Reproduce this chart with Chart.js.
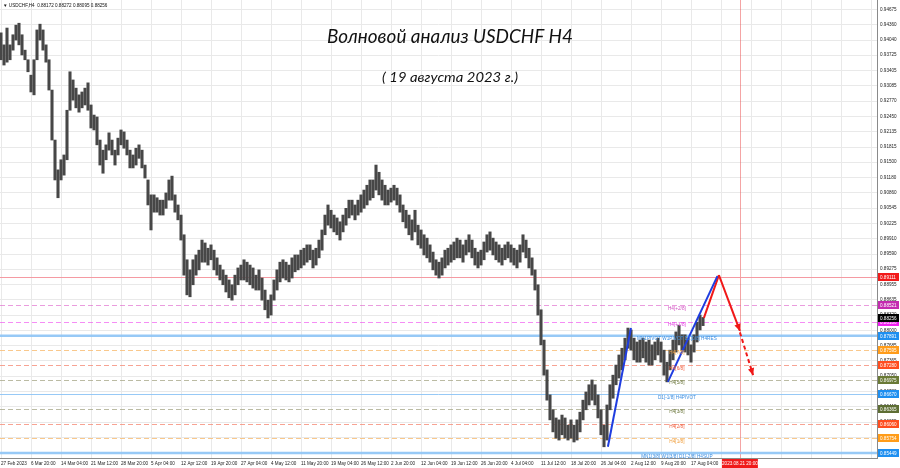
<!DOCTYPE html>
<html><head><meta charset="utf-8">
<script src="https://cdn.jsdelivr.net/npm/chart.js@4"></script>
<style>html,body{margin:0;padding:0;background:#fff}canvas{display:block}</style>
</head><body>
<canvas id="c" width="900" height="468"></canvas>
<script>
// ---- data (H4 bars sampled, price high / low) ----
const barHigh = [
0.9419,0.9394,0.9429,0.9394,0.9415,0.9435,0.9439,0.9415,0.9383,0.9363,
0.9331,0.9363,0.9425,0.9437,0.9425,0.9394,0.9363,0.9300,0.9196,0.9134,
0.9155,0.9165,0.9258,0.9338,0.9321,0.9304,0.9290,0.9296,0.9304,0.9315,
0.9269,0.9248,0.9244,0.9196,0.9175,0.9186,0.9211,0.9196,0.9175,0.9200,
0.9217,0.9213,0.9196,0.9175,0.9165,0.9179,0.9186,0.9175,0.9144,0.9113,
0.9082,0.9082,0.9076,0.9071,0.9071,0.9086,0.9113,0.9121,0.9082,0.9061,
0.9040,0.8999,0.8947,0.8926,0.8947,0.8957,0.8967,0.8988,0.8982,0.8971,
0.8978,0.8967,0.8951,0.8936,0.8926,0.8915,0.8905,0.8895,0.8915,0.8930,
0.8936,0.8947,0.8942,0.8936,0.8930,0.8915,0.8926,0.8909,0.8884,0.8863,
0.8874,0.8905,0.8926,0.8942,0.8947,0.8942,0.8936,0.8951,0.8957,0.8957,
0.8967,0.8971,0.8978,0.8978,0.8967,0.8971,0.8988,0.9009,0.9040,0.9061,
0.9050,0.9040,0.9034,0.9026,0.9040,0.9054,0.9071,0.9071,0.9061,0.9071,
0.9082,0.9092,0.9102,0.9113,0.9113,0.9144,0.9129,0.9113,0.9102,0.9092,
0.9096,0.9102,0.9096,0.9082,0.9061,0.9050,0.9040,0.9030,0.9050,0.9019,
0.9009,0.8999,0.8992,0.8978,0.8963,0.8947,0.8942,0.8951,0.8967,0.8971,
0.8978,0.8984,0.8992,0.8988,0.8978,0.8988,0.8999,0.8988,0.8971,0.8963,
0.8967,0.8984,0.8999,0.9005,0.8992,0.8984,0.8978,0.8971,0.8978,0.8984,
0.8978,0.8971,0.8967,0.8978,0.8999,0.8988,0.8971,0.8951,0.8926,0.8895,
0.8843,0.8780,0.8718,0.8666,0.8635,0.8618,0.8614,0.8624,0.8618,0.8603,
0.8614,0.8603,0.8614,0.8630,0.8655,0.8672,0.8687,0.8697,0.8687,0.8666,
0.8635,0.8603,0.8645,0.8687,0.8707,0.8728,0.8749,0.8763,0.8784,0.8805,
0.8801,0.8784,0.8776,0.8780,0.8784,0.8776,0.8780,0.8770,0.8776,0.8784,
0.8776,0.8759,0.8734,0.8759,0.8780,0.8797,0.8811,0.8791,0.8791,0.8784,
0.8770,0.8791,0.8817,0.8832,0.8827];
const barLow = [
0.9363,0.9352,0.9358,0.9363,0.9383,0.9404,0.9394,0.9373,0.9363,0.9338,
0.9296,0.9290,0.9363,0.9404,0.9383,0.9358,0.9300,0.9196,0.9113,0.9076,
0.9113,0.9123,0.9155,0.9258,0.9279,0.9263,0.9254,0.9263,0.9269,0.9258,
0.9221,0.9217,0.9186,0.9144,0.9127,0.9155,0.9175,0.9165,0.9144,0.9165,
0.9186,0.9179,0.9165,0.9138,0.9138,0.9144,0.9158,0.9138,0.9117,0.9061,
0.9009,0.9046,0.9046,0.9040,0.9040,0.9054,0.9071,0.9071,0.9046,0.9030,
0.8988,0.8915,0.8874,0.8870,0.8895,0.8915,0.8926,0.8942,0.8942,0.8936,
0.8947,0.8926,0.8915,0.8905,0.8895,0.8880,0.8868,0.8863,0.8874,0.8895,
0.8905,0.8905,0.8901,0.8895,0.8888,0.8884,0.8884,0.8863,0.8843,0.8826,
0.8832,0.8863,0.8884,0.8901,0.8909,0.8905,0.8901,0.8909,0.8922,0.8926,
0.8930,0.8936,0.8942,0.8947,0.8930,0.8936,0.8951,0.8967,0.8999,0.9019,
0.9013,0.9005,0.8999,0.8988,0.9005,0.9019,0.9034,0.9040,0.9030,0.9040,
0.9046,0.9054,0.9061,0.9071,0.9076,0.9092,0.9082,0.9071,0.9061,0.9061,
0.9067,0.9071,0.9061,0.9046,0.9026,0.9013,0.8999,0.8988,0.9005,0.8978,
0.8971,0.8957,0.8951,0.8942,0.8926,0.8915,0.8909,0.8915,0.8930,0.8936,
0.8942,0.8947,0.8951,0.8951,0.8942,0.8957,0.8963,0.8951,0.8936,0.8930,
0.8936,0.8947,0.8963,0.8967,0.8957,0.8947,0.8942,0.8936,0.8947,0.8951,
0.8942,0.8936,0.8930,0.8942,0.8963,0.8951,0.8930,0.8915,0.8884,0.8832,
0.8770,0.8707,0.8655,0.8614,0.8589,0.8576,0.8572,0.8583,0.8576,0.8572,
0.8576,0.8568,0.8572,0.8589,0.8614,0.8635,0.8645,0.8655,0.8645,0.8618,
0.8583,0.8558,0.8572,0.8635,0.8659,0.8687,0.8701,0.8718,0.8739,0.8763,
0.8759,0.8739,0.8734,0.8734,0.8743,0.8734,0.8728,0.8728,0.8739,0.8749,
0.8734,0.8707,0.8693,0.8718,0.8739,0.8755,0.8770,0.8759,0.8755,0.8749,
0.8734,0.8755,0.8776,0.8801,0.8810];

const xTickLabels = ["27 Feb 2023","6 Mar 20:00","14 Mar 04:00","21 Mar 12:00","28 Mar 20:00","5 Apr 04:00",
"12 Apr 12:00","19 Apr 20:00","27 Apr 04:00","4 May 12:00","11 May 20:00","19 May 04:00","26 May 12:00",
"2 Jun 20:00","12 Jun 04:00","19 Jun 12:00","26 Jun 20:00","4 Jul 04:00","11 Jul 12:00","18 Jul 20:00",
"26 Jul 04:00","2 Aug 12:00","9 Aug 20:00","17 Aug 04:00"];
const barsPerLabel = 10;
const yTickLabels = [0.94675,0.94360,0.94040,0.93725,0.93405,0.93085,0.92770,0.92450,0.92135,0.91815,
0.91500,0.91180,0.90860,0.90545,0.90225,0.89910,0.89590,0.89275,0.88955,0.88635,0.88320,0.88000,
0.87685,0.87365,0.87050,0.86730,0.86415,0.86095,0.85780];

const levelValues = [0.89111,0.88521,0.88186,0.87891,0.87595,0.87280,0.86975,0.86670,0.86365,0.86060,0.85754,0.85449];
const levelNames = ["","H4[+2/8]","H4[+1/8]","MN1PIVOT W1PIVOT D1[0/8] H4RES","H4[7/8]","H4[6/8]","H4[5/8]",
"D1[-1/8] H4PIVOT","H4[3/8]","H4[2/8]","H4[1/8]","MN1[3/8] W1[3/8] D1[-2/8] H4SUP"];
const currentPrice = 0.88256;
const infoText = "\u25BC USDCHF,H4  0.88172 0.88272 0.88095 0.88256";
const titleText = "Волновой анализ USDCHF H4";
const subtitleText = "( 19 августа 2023 г.)";
const markerIndex = 246.3;
const markerLabel = "2023.08.21 20:00";
const labelIndex = 225.3;

// wave lines: [bar index, price]
const waveBlue1 = [[202.3,0.8558],[210.0,0.8805]];
const waveBlue2 = [[222.3,0.8693],[238.8,0.8913]];
const waveRedUp = [[234.3,0.8826],[239.3,0.8915]];
const waveRedDown = [[239.3,0.8915],[246.3,0.8799]];
const waveRedDash = [[246.3,0.8796],[250.7,0.8707]];

// ---- styles ----
const levelStyles = [
 {line:'#f59aa2', width:1, dash:[], box:'#f21a1a', text:'#e05050'},
 {line:'rgba(220,90,200,0.6)', width:1, dash:[5,3], box:'#c42bb0', text:'#d050c0'},
 {line:'rgba(240,80,240,0.65)', width:1, dash:[5,3], box:'#f020f0', text:'#e040e0'},
 {line:'rgba(140,195,245,0.9)', width:2.5, dash:[], box:'#1e8ff0', text:'#3b8de0'},
 {line:'rgba(248,190,120,0.85)', width:1, dash:[5,3], box:'#ff9c1a', text:'#f0a040'},
 {line:'rgba(245,140,120,0.8)', width:1, dash:[5,3], box:'#ff4d1f', text:'#f06040'},
 {line:'rgba(170,170,140,0.8)', width:1, dash:[5,3], box:'#6a7a36', text:'#6f7a40'},
 {line:'rgba(140,195,245,0.9)', width:1, dash:[], box:'#1e8ff0', text:'#3b8de0'},
 {line:'rgba(170,170,140,0.8)', width:1, dash:[5,3], box:'#5e6e34', text:'#6f7a40'},
 {line:'rgba(245,140,120,0.8)', width:1, dash:[5,3], box:'#ff4d1f', text:'#f06040'},
 {line:'rgba(248,190,120,0.85)', width:1, dash:[5,3], box:'#ff9c1a', text:'#f0a040'},
 {line:'rgba(140,195,245,0.9)', width:2.5, dash:[], box:'#1e8ff0', text:'#3b8de0'}
];
const SMALL = 'Liberation Sans';

const toPts = arr => arr.map(p => ({x:p[0], y:p[1]}));

function arrowHead(ctx, x0, y0, x1, y1, color) {
  const ang = Math.atan2(y1 - y0, x1 - x0);
  const L = 7, W = 3.2;
  ctx.fillStyle = color;
  ctx.beginPath();
  ctx.moveTo(x1, y1);
  ctx.lineTo(x1 - L*Math.cos(ang) + W*Math.sin(ang), y1 - L*Math.sin(ang) - W*Math.cos(ang));
  ctx.lineTo(x1 - L*Math.cos(ang) - W*Math.sin(ang), y1 - L*Math.sin(ang) + W*Math.cos(ang));
  ctx.closePath(); ctx.fill();
}

const overlay = {
  id: 'overlay',
  beforeDatasetsDraw(chart) {
    const {ctx, chartArea: a, scales: {x, y}} = chart;
    ctx.save();
    const mx = Math.round(x.getPixelForValue(markerIndex)) + 0.5;
    ctx.strokeStyle = 'rgba(235,90,90,0.55)'; ctx.lineWidth = 1;
    ctx.beginPath(); ctx.moveTo(mx, a.top); ctx.lineTo(mx, a.bottom); ctx.stroke();
    levelValues.forEach((v, k) => {
      const st = levelStyles[k];
      let py = y.getPixelForValue(v);
      if (st.width === 1) py = Math.round(py) + 0.5;
      ctx.strokeStyle = st.line; ctx.lineWidth = st.width; ctx.setLineDash(st.dash);
      ctx.beginPath(); ctx.moveTo(a.left, py); ctx.lineTo(a.right, py); ctx.stroke();
    });
    ctx.restore();
  },
  afterDatasetsDraw(chart) {
    const {ctx, scales: {x, y}} = chart;
    ctx.save();
    ctx.font = '4.7px "' + SMALL + '"';
    ctx.textAlign = 'center'; ctx.textBaseline = 'top';
    const lx = x.getPixelForValue(labelIndex);
    levelValues.forEach((v, k) => {
      if (!levelNames[k]) return;
      ctx.fillStyle = levelStyles[k].text;
      ctx.fillText(levelNames[k], lx, y.getPixelForValue(v) + 0.8);
    });
    const P = p => [x.getPixelForValue(p[0]), y.getPixelForValue(p[1])];
    let a = P(waveRedDown[0]), b = P(waveRedDown[1]);
    arrowHead(ctx, a[0], a[1], b[0], b[1], '#f01818');
    a = P(waveRedDash[0]); b = P(waveRedDash[1]);
    arrowHead(ctx, a[0], a[1], b[0], b[1], '#f01818');
    ctx.restore();
  },
  afterDraw(chart) {
    const {ctx, chartArea: ar, scales: {x, y}} = chart;
    ctx.save();
    ctx.font = '4.6px "' + SMALL + '"';
    ctx.textBaseline = 'middle'; ctx.textAlign = 'left';
    const box = (v, col) => {
      const py = Math.round(y.getPixelForValue(v));
      ctx.fillStyle = col; ctx.fillRect(ar.right + 1, py - 4, 21, 8);
      ctx.fillStyle = '#fff'; ctx.fillText(v.toFixed(5), ar.right + 3, py + 0.3);
    };
    levelValues.forEach((v, k) => box(v, levelStyles[k].box));
    box(currentPrice, '#000');
    const mx = x.getPixelForValue(markerIndex);
    ctx.fillStyle = '#f01a1a'; ctx.fillRect(mx - 18, ar.bottom + 1, 36, 9);
    ctx.fillStyle = '#fff'; ctx.textAlign = 'center';
    ctx.fillText(markerLabel, mx, ar.bottom + 5.8);
    ctx.fillStyle = '#111'; ctx.textAlign = 'left';
    ctx.fillText(infoText, 3, 5.5);
    ctx.fillStyle = '#111'; ctx.textBaseline = 'alphabetic'; ctx.textAlign = 'left';
    const drawFit = (txt, font, cx, base, targetW) => {
      ctx.font = font;
      const w = ctx.measureText(txt).width;
      const s = targetW / w;
      ctx.save(); ctx.translate(cx - targetW/2, base); ctx.scale(s, 1);
      ctx.fillText(txt, 0, 0); ctx.restore();
    };
    drawFit(titleText, 'italic 19px Lato', 450, 43, 246);
    drawFit(subtitleText, 'italic 14px Lato', 450, 82, 136);
    ctx.restore();
  }
};

const xTickIdx = [];
for (let v = 0; v <= 290; v += barsPerLabel) xTickIdx.push(v);

new Chart(document.getElementById('c'), {
  type: 'bar',
  data: {
    datasets: [
      {type:'bar', data: barLow.map((lo, i) => ({x:i, y:[lo, barHigh[i]]})),
       backgroundColor:'#474747', barThickness:2.4, order:5},
      {type:'line', data: toPts(waveBlue1), borderColor:'#1f3de0', borderWidth:2, pointRadius:0, order:1},
      {type:'line', data: toPts(waveBlue2), borderColor:'#1f3de0', borderWidth:2, pointRadius:0, order:1},
      {type:'line', data: toPts(waveRedUp), borderColor:'#f01818', borderWidth:2, pointRadius:0, order:1},
      {type:'line', data: toPts(waveRedDown), borderColor:'#f01818', borderWidth:2, pointRadius:0, order:1},
      {type:'line', data: toPts(waveRedDash), borderColor:'#f01818', borderWidth:2, borderDash:[4,3], pointRadius:0, order:1}
    ]
  },
  options: {
    responsive:false, animation:false, devicePixelRatio:1,
    layout:{padding:0},
    plugins:{legend:{display:false}, tooltip:{enabled:false}},
    scales:{
      x:{type:'linear', min:-1/3, max:292, offset:false,
         grid:{color:'#e9e9e9', offset:false, drawTicks:false},
         border:{color:'#8a8a8a'},
         ticks:{autoSkip:false, maxRotation:0, minRotation:0, align:'start', padding:3,
                color:'#222', font:{size:4.6, family:SMALL},
                callback:(v) => xTickLabels[Math.round(v / barsPerLabel)] || ''},
         afterBuildTicks:(s) => { s.ticks = xTickIdx.map(v => ({value:v})); },
         afterFit:(s) => { s.height = 10; s.paddingLeft = 0; s.paddingRight = 0; }},
      y:{type:'linear', position:'right', min:0.85347, max:0.94873, beginAtZero:false,
         grid:{color:'#e9e9e9', drawTicks:false},
         border:{color:'#8a8a8a'},
         ticks:{padding:3, color:'#222', font:{size:4.6, family:SMALL},
                callback:(v) => Number(v).toFixed(5)},
         afterBuildTicks:(s) => { s.ticks = yTickLabels.map(v => ({value:v})); },
         afterFit:(s) => { s.width = 23; s.paddingTop = 0; s.paddingBottom = 0; }}
    }
  },
  plugins:[overlay]
});
</script>
</body></html>
